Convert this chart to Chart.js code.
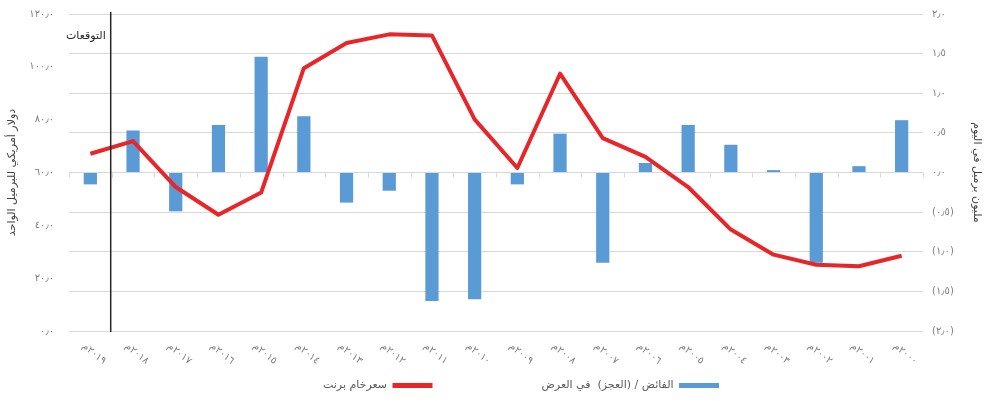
<!DOCTYPE html>
<html lang="ar">
<head>
<meta charset="utf-8">
<script src="https://cdn.jsdelivr.net/npm/chart.js@4.4.1/dist/chart.umd.min.js"></script>
<style>
  html, body { margin: 0; padding: 0; background: #fff; }
  #wrap { width: 987px; height: 401px; }
</style>
</head>
<body>
<div id="wrap"><canvas id="graph"></canvas></div>
<script>
// years as shown, newest on the left
const years = ['2019', '2018', '2017', '2016', '2015', '2014', '2013', '2012', '2011', '2010',
               '2009', '2008', '2007', '2006', '2005', '2004', '2003', '2002', '2001', '2000'];

// surplus / (deficit) in supply, million barrels per day
const balance = [-0.15, 0.53, -0.49, 0.60, 1.46, 0.71, -0.38, -0.23, -1.62, -1.60,
                 -0.15, 0.49, -1.14, 0.12, 0.60, 0.35, 0.03, -1.14, 0.08, 0.66];

// brent crude price, USD per barrel
const brent = [67.1, 71.9, 54.5, 44.0, 52.4, 99.5, 109.0, 112.3, 111.9, 80.1,
               61.7, 97.4, 73.0, 65.9, 54.5, 38.4, 28.9, 25.1, 24.5, 28.5];

const balanceLabel = 'الفائض / (العجز)  في العرض';
const brentLabel = 'سعرخام برنت';
const leftTitle = 'دولار أمريكي للبرميل الواحد';
const rightTitle = 'مليون برميل في اليوم';
const forecastLabel = 'التوقعات';

const FONT = "'DejaVu Sans', sans-serif";
const EM = '\u2003';

// western digits -> arabic-indic
function ar(str) {
  return String(str).replace(/[0-9]/g, d => '٠١٢٣٤٥٦٧٨٩'[d]).replace('.', '٫');
}

// forecast divider, year labels, small ticks on the zero line
const overlay = {
  id: 'overlay',
  beforeDatasetsDraw(chart) {
    const { ctx } = chart;
    const x = chart.scales.x;
    const y0 = chart.scales.yr.getPixelForValue(0);
    const step = x.getPixelForValue(1) - x.getPixelForValue(0);
    ctx.save();
    ctx.strokeStyle = '#d9d9d9';
    ctx.lineWidth = 1;
    ctx.beginPath();
    for (let i = 0; i <= years.length; i++) {
      const px = Math.round(x.getPixelForValue(0) - step / 2 + i * step) + 0.5;
      ctx.moveTo(px, y0);
      ctx.lineTo(px, y0 + 5);
    }
    ctx.stroke();
    ctx.restore();
  },
  afterDatasetsDraw(chart) {
    const { ctx, chartArea } = chart;
    const x = chart.scales.x;
    const divX = (x.getPixelForValue(0) + x.getPixelForValue(1)) / 2 - 1;
    ctx.save();
    ctx.strokeStyle = '#262626';
    ctx.lineWidth = 1.5;
    ctx.beginPath();
    ctx.moveTo(divX, chartArea.top - 2);
    ctx.lineTo(divX, chartArea.bottom + 1);
    ctx.stroke();

    ctx.fillStyle = '#262626';
    ctx.font = '11px ' + FONT;
    ctx.textAlign = 'right';
    ctx.textBaseline = 'middle';
    ctx.fillText(forecastLabel, divX - 5, chartArea.top + 22);

    ctx.fillStyle = '#7f7f7f';
    ctx.font = '10px ' + FONT;
    ctx.textAlign = 'left';
    years.forEach((yr, i) => {
      const px = x.getPixelForValue(i);
      ctx.save();
      ctx.translate(px - 7, chartArea.bottom + 14);
      ctx.rotate(Math.PI / 4.6);
      ctx.fillText(ar(yr) + 'م', 0, 0);
      ctx.restore();
    });
    ctx.restore();
  }
};

new Chart(document.getElementById('graph'), {
  data: {
    labels: years,
    datasets: [
      {
        type: 'bar',
        label: balanceLabel + EM.repeat(9),
        data: balance,
        yAxisID: 'yr',
        backgroundColor: '#5b9bd5',
        categoryPercentage: 1,
        barPercentage: 0.31,
        order: 2
      },
      {
        type: 'line',
        label: brentLabel + EM.repeat(5),
        data: brent,
        yAxisID: 'yl',
        borderColor: '#e8262a',
        backgroundColor: '#e8262a',
        borderWidth: 4,
        pointRadius: 0,
        borderJoinStyle: 'round',
        tension: 0,
        order: 1
      }
    ]
  },
  options: {
    responsive: true,
    maintainAspectRatio: false,
    animation: false,
    layout: { padding: { top: 14, left: 0, right: 0, bottom: 0 } },
    scales: {
      x: {
        type: 'category',
        grid: { display: false },
        border: { display: false },
        ticks: { display: false },
        afterFit: s => { s.height = 39; }
      },
      yl: {
        position: 'left',
        min: 0,
        max: 120,
        ticks: {
          stepSize: 20,
          color: '#7f7f7f',
          font: { family: FONT, size: 10 },
          padding: 3,
          callback: v => ar(v.toFixed(1))
        },
        grid: { display: false, drawTicks: true, tickLength: 12 },
        border: { display: false },
        title: {
          display: true,
          text: leftTitle,
          color: '#404040',
          font: { family: FONT, size: 11 },
          padding: { top: 6, bottom: 0 }
        },
        afterFit: s => { s.width = 69; }
      },
      yr: {
        position: 'right',
        min: -2,
        max: 2,
        ticks: {
          stepSize: 0.5,
          color: '#7f7f7f',
          font: { family: FONT, size: 10 },
          padding: 3,
          callback: v => v < 0 ? '(' + ar(Math.abs(v).toFixed(1)) + ')' : ar(v.toFixed(1))
        },
        grid: { color: '#d9d9d9', lineWidth: 1, drawTicks: true, tickLength: 6, tickColor: 'rgba(0,0,0,0)' },
        border: { display: false },
        title: {
          display: true,
          text: rightTitle,
          color: '#404040',
          font: { family: FONT, size: 11 },
          padding: { top: 4, bottom: 0 }
        },
        afterFit: s => { s.width = 64; }
      }
    },
    plugins: {
      legend: {
        position: 'bottom',
        rtl: true,
        reverse: true,
        textDirection: 'rtl',
        labels: {
          color: '#595959',
          font: { family: FONT, size: 11 },
          boxWidth: 40,
          boxHeight: 5,
          padding: 10,
          generateLabels: chart =>
            Chart.defaults.plugins.legend.labels.generateLabels(chart).map(l => ({ ...l, lineWidth: 0 }))
        }
      },
      tooltip: { enabled: false }
    }
  },
  plugins: [overlay]
});
</script>
</body>
</html>
